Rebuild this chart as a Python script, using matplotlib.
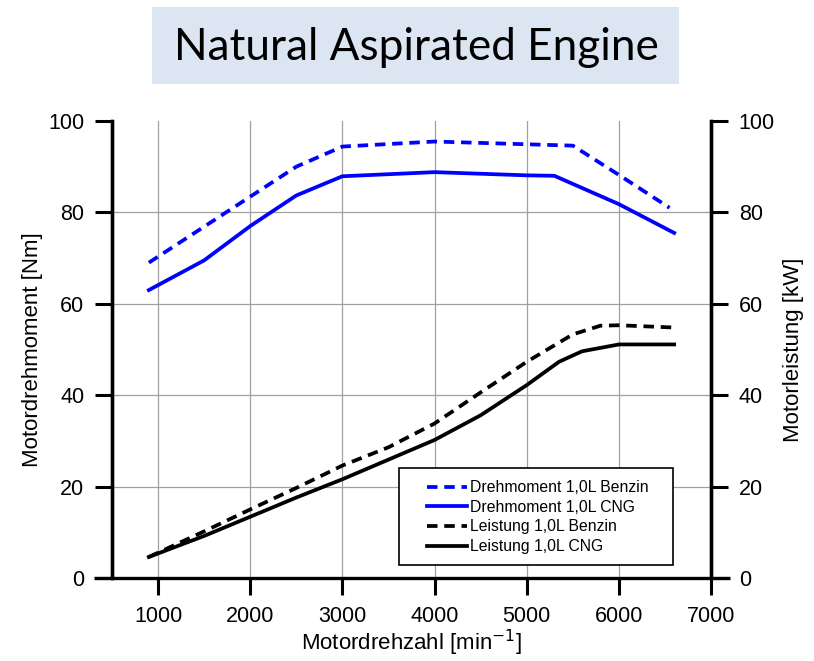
import matplotlib
matplotlib.use('Agg')
import matplotlib.pyplot as plt
from matplotlib.patches import Rectangle

plt.rcParams['font.family'] = ['Liberation Sans', 'DejaVu Sans']

# Drehmoment [Nm]
rpm_torque_benzin = [900, 2500, 3000, 4000, 5000, 5500, 6000, 6550]
torque_benzin = [69.0, 90.0, 94.4, 95.5, 94.9, 94.6, 88.2, 81.0]
rpm_torque_cng = [900, 1500, 2000, 2500, 3000, 4000, 5000, 5300, 6000, 6600]
torque_cng = [63.0, 69.5, 77.0, 83.7, 87.9, 88.8, 88.1, 88.0, 81.8, 75.5]

# Leistung [kW]
rpm_power_benzin = [900, 1500, 2000, 2500, 3000, 3500, 4000, 4500, 5000, 5500, 5800, 6000, 6600]
power_benzin = [4.6, 10.2, 15.0, 19.7, 24.6, 28.6, 33.8, 40.6, 47.3, 53.3, 55.2, 55.3, 54.8]
rpm_power_cng = [900, 1500, 2000, 2500, 3000, 3500, 4000, 4500, 5000, 5350, 5600, 6000, 6600]
power_cng = [4.6, 9.2, 13.4, 17.6, 21.6, 25.9, 30.2, 35.6, 42.2, 47.3, 49.6, 51.1, 51.1]

labels = ['Drehmoment 1,0L Benzin', 'Drehmoment 1,0L CNG',
          'Leistung 1,0L Benzin', 'Leistung 1,0L CNG']

fig = plt.figure(figsize=(8.14, 6.61), dpi=100)

# title box
fig.patches.append(Rectangle((152/814, 1-84/661), 527/814, 77/661,
                             transform=fig.transFigure, facecolor='#dce6f2',
                             edgecolor='none', zorder=0))
fig.text(0.511, 0.928, 'Natural Aspirated Engine', fontsize=31.8,
         family=['Lato', 'DejaVu Sans'], ha='center', va='center')

ax = fig.add_axes([0.1376, 0.1256, 0.7359, 0.6914])
ax2 = ax.twinx()

blue = '#0000ff'
dash = (0, (2.8, 1.8))
ax.plot(rpm_torque_benzin, torque_benzin, color=blue, lw=2.7, linestyle=dash, label=labels[0])
ax.plot(rpm_torque_cng, torque_cng, color=blue, lw=2.7, label=labels[1])
ax.plot(rpm_power_benzin, power_benzin, color='black', lw=2.7, linestyle=dash, label=labels[2])
ax.plot(rpm_power_cng, power_cng, color='black', lw=2.7, label=labels[3])

for a in (ax, ax2):
    a.set_xlim(500, 7000)
    a.set_ylim(0, 100)
    a.set_yticks(range(0, 101, 20))
    a.spines['top'].set_visible(False)
    a.spines['bottom'].set_visible(False)
    a.spines['left'].set_linewidth(2.4)
    a.spines['right'].set_linewidth(2.4)

ax.set_xticks(range(1000, 7001, 1000))
ax.tick_params(axis='both', direction='out', length=12, width=2.2, labelsize=15.5, pad=8)
ax2.tick_params(axis='y', direction='out', length=12, width=2.2, labelsize=15.5, pad=8)

# x axis line reaching past both spines
ax.plot([-0.03, 1.032], [0, 0], transform=ax.transAxes, color='black', lw=2.4,
        clip_on=False, solid_capstyle='butt')

ax.grid(True, color='#a0a0a0', lw=0.9)
ax.get_ygridlines()[-1].set_visible(False)
ax.set_axisbelow(True)

ax.set_xlabel('Motordrehzahl [min$^{-1}$]', fontsize=16, labelpad=1)
ax.set_ylabel('Motordrehmoment [Nm]', fontsize=16, labelpad=4)
ax2.set_ylabel('Motorleistung [kW]', fontsize=16, labelpad=6)

# legend frame drawn separately (wider side padding than top/bottom)
ax.add_patch(Rectangle((0.479, 0.0284), 0.4577, 0.2123, transform=ax.transAxes,
                       facecolor='white', edgecolor='black', lw=1.2, zorder=4))
leg = ax.legend(loc='upper left', bbox_to_anchor=(0.526, 0.2144), fontsize=11.3,
                handlelength=2.55, handletextpad=0.2, labelspacing=0.3,
                borderpad=0, borderaxespad=0, frameon=False)
leg.set_zorder(5)

fig.savefig('out.png', dpi=100)
